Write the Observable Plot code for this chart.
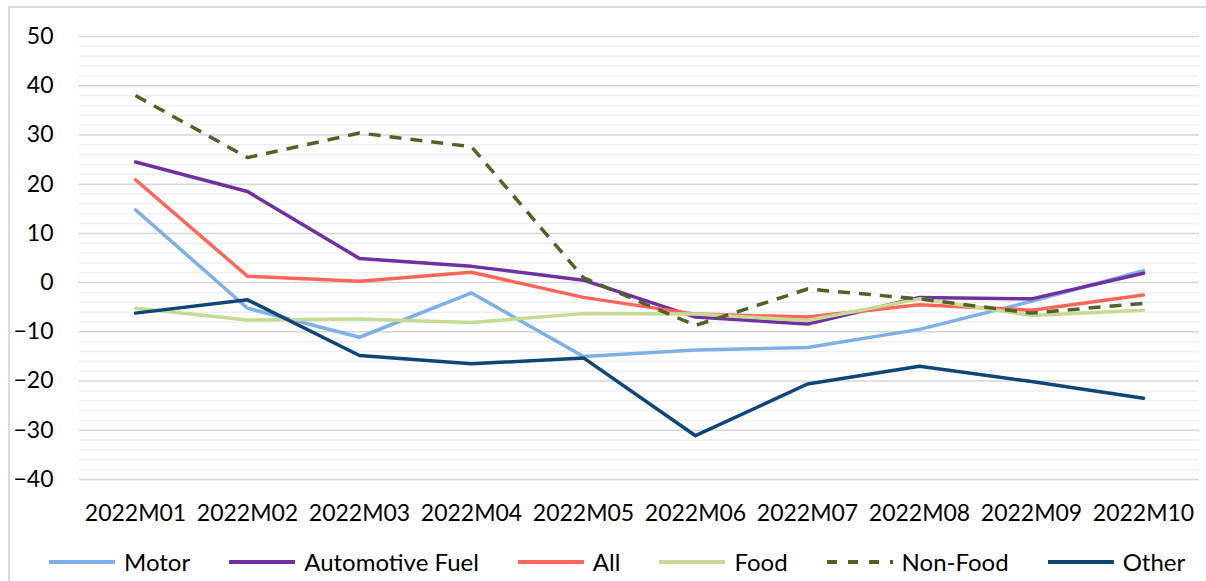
<!DOCTYPE html>
<html>
<head>
<meta charset="utf-8">
<script src="https://cdn.jsdelivr.net/npm/d3@7"></script>
<script src="https://cdn.jsdelivr.net/npm/@observablehq/plot@0.6"></script>
<style>
  html, body { margin: 0; padding: 0; background: #fff; overflow: hidden; }
  #wrap { position: relative; width: 1206px; height: 581px; font-family: Lato, "Open Sans", sans-serif; }
  #frame { position: absolute; left: 8px; top: 6px; width: 1400px; height: 800px; border-top: 2px solid #dadada; border-left: 2px solid #dadada; box-sizing: border-box; }
  #chart { position: absolute; left: 0; top: 0; }
  #legend { position: absolute; left: 48px; top: 547px; display: flex; align-items: center; font-size: 24px; color: #000; white-space: nowrap; }
  .item { display: flex; align-items: center; margin-right: 38px; }
  .item svg { margin-right: 8px; }
</style>
</head>
<body>
<div id="wrap">
  <div id="frame"></div>
  <div id="chart"></div>
  <div id="legend"></div>
</div>
<script>
const months = ["2022M01","2022M02","2022M03","2022M04","2022M05","2022M06","2022M07","2022M08","2022M09","2022M10"];
const yTicks = [-40,-30,-20,-10,0,10,20,30,40,50];
const minorStep = 2;

const motor          = [14.8, -5.2, -11.1, -2.1, -15.0, -13.7, -13.2, -9.5, -3.8, 2.4];
const automotiveFuel = [24.5, 18.5, 4.9, 3.3, 0.5, -7.0, -8.4, -3.0, -3.3, 1.9];
const all            = [20.9, 1.3, 0.3, 2.1, -3.0, -6.4, -7.0, -4.5, -5.6, -2.5];
const food           = [-5.2, -7.6, -7.4, -8.1, -6.3, -6.4, -7.7, -3.3, -6.7, -5.6];
const nonFood        = [38.0, 25.4, 30.4, 27.6, 1.0, -8.7, -1.3, -3.3, -6.2, -4.2];
const other          = [-6.2, -3.5, -14.8, -16.5, -15.3, -31.1, -20.6, -17.0, -20.1, -23.5];

const seriesNames = ["Motor","Automotive Fuel","All","Food","Non-Food","Other"];
const seriesValues = [motor, automotiveFuel, all, food, nonFood, other];
const seriesColors = ["#7EB0E6","#7030A0","#FF6659","#C5DB94","#4F6228","#0E4678"];
const seriesDash = [null, null, null, null, "12,9", null];

const rows = seriesNames.map((name, i) => months.map((m, j) => ({series: name, month: m, value: seriesValues[i][j]})));
const minorTicks = d3.range(yTicks[0], yTicks[yTicks.length - 1] + 0.001, minorStep).filter(v => !yTicks.includes(v));

const chart = Plot.plot({
  width: 1206,
  height: 530,
  marginLeft: 79,
  marginRight: 7,
  marginTop: 36,
  marginBottom: 51,
  style: {fontFamily: "Lato, 'Open Sans', sans-serif", fontSize: "23px", color: "#000", background: "transparent"},
  x: {type: "point", domain: months, padding: 0.5, label: null},
  y: {domain: [yTicks[0], yTicks[yTicks.length - 1]], label: null},
  marks: [
    Plot.ruleY(minorTicks, {stroke: "#efefef", strokeWidth: 1.5}),
    Plot.ruleY(yTicks, {stroke: "#d6d6d6", strokeWidth: 1.5}),
    Plot.axisY({ticks: yTicks, tickSize: 0, tickPadding: 26, label: null, fontSize: 23}),
    Plot.axisX({tickSize: 0, tickPadding: 25, label: null, fontSize: 23}),
    ...rows.map((data, i) => Plot.line(data, {
      x: "month", y: "value",
      stroke: seriesColors[i], strokeWidth: 3.5,
      strokeDasharray: seriesDash[i] || undefined,
      strokeLinejoin: "round", strokeLinecap: seriesDash[i] ? "butt" : "round"
    }))
  ]
});
document.getElementById("chart").appendChild(chart);

const legend = document.getElementById("legend");
seriesNames.forEach((name, i) => {
  const item = document.createElement("div");
  item.className = "item";
  const dash = seriesDash[i] ? `stroke-dasharray="10,11"` : "";
  item.innerHTML = `<svg width="68" height="10"><line x1="1" y1="5" x2="67" y2="5" stroke="${seriesColors[i]}" stroke-width="4" ${dash} stroke-linecap="butt"/></svg><span>${name}</span>`;
  legend.appendChild(item);
});
</script>
</body>
</html>
